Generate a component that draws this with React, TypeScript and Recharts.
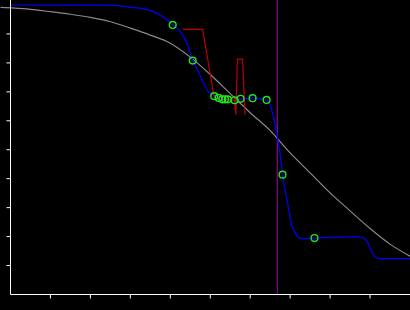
import React from "react";
import { ComposedChart, Line, Scatter, XAxis, YAxis, ReferenceLine } from "recharts";

// smooth grey reference curve
const grayX = [-0.25, 0, 0.5, 1, 1.5, 2, 2.5, 3, 3.5, 4, 4.5, 5, 5.5, 6, 6.5, 7, 7.5, 8, 8.5, 9, 9.5, 10];
const grayY = [9.92, 9.9, 9.85, 9.77, 9.68, 9.57, 9.42, 9.2, 8.96, 8.68, 8.2, 7.6, 6.94, 6.28, 5.66, 4.89, 4.2, 3.51, 2.89, 2.28, 1.74, 1.32];

// blue fitted curve
const blueX = [0, 2.6, 3.0, 3.25, 3.575, 3.925, 4.06, 4.25, 4.42, 4.56, 4.7, 4.83, 4.95, 5.1, 5.21, 5.375, 5.61, 5.76, 6.06, 6.41, 6.5, 6.58, 6.67, 6.75, 6.81, 6.92, 7.04, 7.17, 7.29, 7.61, 8.75, 8.92, 9.04, 9.125, 9.25, 10];
const blueY = [10.0, 9.99, 9.92, 9.89, 9.77, 9.48, 9.31, 9.08, 8.68, 8.09, 7.7, 7.3, 7.01, 6.85, 6.78, 6.74, 6.71, 6.75, 6.78, 6.71, 6.55, 6.14, 5.52, 4.83, 4.14, 3.28, 2.41, 2.03, 1.92, 1.95, 1.99, 1.84, 1.49, 1.3, 1.24, 1.24];

// red trace
const redX = [4.32, 4.81, 5.08, 5.14, 5.61, 5.64, 5.68, 5.81, 5.87];
const redY = [9.16, 9.16, 6.96, 6.74, 6.72, 6.21, 8.13, 8.13, 6.21];

// green sample points
const pointX = [4.06, 4.56, 5.1, 5.21, 5.3, 5.37, 5.44, 5.61, 5.76, 6.06, 6.41, 6.81, 7.61];
const pointY = [9.31, 8.08, 6.85, 6.79, 6.74, 6.74, 6.74, 6.71, 6.76, 6.78, 6.72, 4.14, 1.95];

const xTicks = [1, 2, 3, 4, 5, 6, 7, 8, 9];
const yTicks = [1, 2, 3, 4, 5, 6, 7, 8, 9];
const cutX = 6.68;

const toRows = (xs: number[], ys: number[]) => xs.map((x, i) => ({ x, y: ys[i] }));

const grayData = toRows(grayX, grayY);
const blueData = toRows(blueX, blueY);
const redData = toRows(redX, redY);
const pointData = toRows(pointX, pointY);

const Ring = (props: any) => (
  <circle cx={props.cx} cy={props.cy} r={3.4} fill="none" stroke="#1be61b" strokeWidth={1.4} />
);

const noLabel = () => "";

export default function App() {
  return (
    <div style={{ position: "absolute", left: 0, top: 0, width: 410, height: 310, background: "#000" }}>
      <ComposedChart width={410} height={310} margin={{ top: 0, right: 0, bottom: 0, left: 0 }}>
        <XAxis
          xAxisId={0}
          type="number"
          dataKey="x"
          domain={[0, 10]}
          ticks={xTicks}
          tickFormatter={noLabel}
          tickSize={4}
          height={15.5}
          stroke="#fff"
          tickLine={{ stroke: "#fff" }}
          allowDataOverflow
        />
        {/* same scale, shifted 10px left so the grey curve runs past the axis */}
        <XAxis
          xAxisId="g"
          type="number"
          dataKey="x"
          domain={[-0.25, 10]}
          padding={{ left: -10, right: 0 }}
          hide
        />
        <YAxis
          type="number"
          domain={[0, 295 / 29]}
          ticks={yTicks}
          tickFormatter={noLabel}
          tickSize={4}
          width={10.5}
          stroke="#fff"
          tickLine={{ stroke: "#fff" }}
          allowDataOverflow
        />
        <ReferenceLine x={cutX} stroke="#8a008a" strokeWidth={1.2} />
        <Line
          xAxisId="g"
          data={grayData}
          dataKey="y"
          type="monotone"
          stroke="#8a8a8a"
          strokeWidth={1.2}
          dot={false}
          isAnimationActive={false}
        />
        <Line
          data={blueData}
          dataKey="y"
          type="monotone"
          stroke="#0000ff"
          strokeWidth={1.2}
          dot={false}
          isAnimationActive={false}
        />
        <Line
          data={redData}
          dataKey="y"
          type="linear"
          stroke="#c00000"
          strokeWidth={1.2}
          dot={false}
          isAnimationActive={false}
        />
        <Scatter data={pointData} dataKey="y" shape={Ring} isAnimationActive={false} />
      </ComposedChart>
    </div>
  );
}
